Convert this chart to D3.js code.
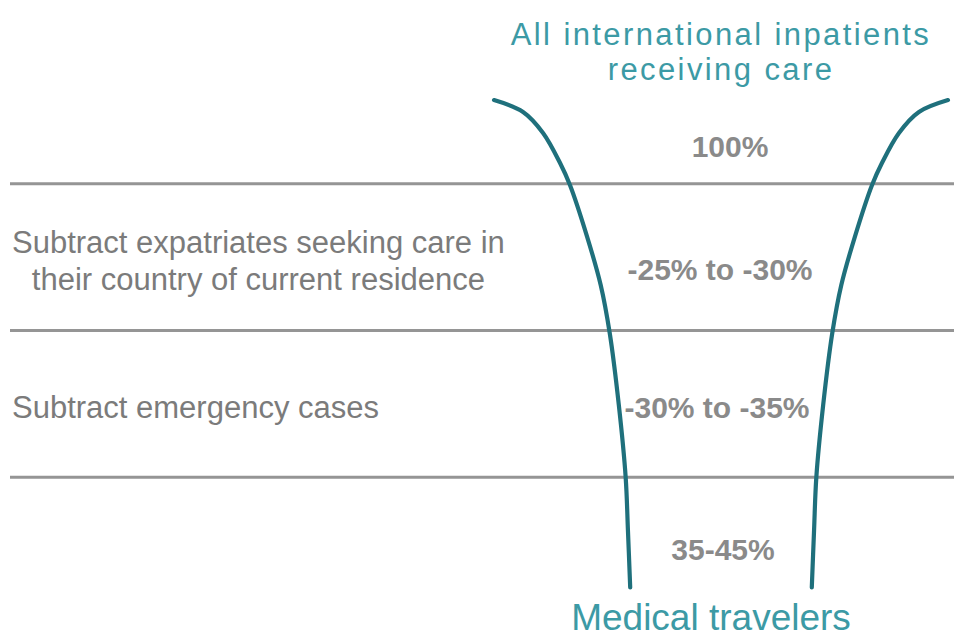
<!DOCTYPE html>
<html>
<head>
<meta charset="utf-8">
<script src="https://cdn.jsdelivr.net/npm/d3@7"></script>
<style>
  body { margin: 0; background: #fff; }
  text { font-family: "Liberation Sans", Arial, sans-serif; }
</style>
</head>
<body>
<script>
// rows of the funnel, top to bottom
var stageLabels = [
  [],
  ["Subtract expatriates seeking care in", "their country of current residence"],
  ["Subtract emergency cases"],
  []
];
var shareLabels = ["100%", "-25% to -30%", "-30% to -35%", "35-45%"];
var topTitle = ["All international inpatients", "receiving care"];
var bottomTitle = "Medical travelers";

// funnel profile: depth (in rows) and width (% of the opening)
var funnelDepth = [0.43, 0.511, 0.654, 0.859, 1.01, 1.36, 1.69, 2.02, 2.51, 3.00, 3.36, 3.75];
var funnelWidth = [100, 87.2, 78.4, 70.9, 66.5, 59, 53, 49, 45, 42, 41, 40];

var width = 954, height = 637;

var svg = d3.select("body")
  .append("svg")
  .attr("width", width)
  .attr("height", height);

// rows
var y = d3.scaleLinear()
  .domain([0, stageLabels.length])
  .range([37, 624]);

// funnel, centred on 0
var x = d3.scaleLinear()
  .domain([-100, 100])
  .range([494, 948]);

var teal = "#1f707c";
var titleTeal = "#3c9aa5";

// row dividers
svg.selectAll("line.divider")
  .data(d3.range(1, stageLabels.length))
  .enter().append("line")
  .attr("class", "divider")
  .attr("x1", 10)
  .attr("x2", width)
  .attr("y1", function(d) { return y(d); })
  .attr("y2", function(d) { return y(d); })
  .attr("stroke", "#959595")
  .attr("stroke-width", 3);

// funnel sides
var pts = funnelDepth.map(function(d, i) { return [funnelWidth[i], d]; });

var side = function(sign) {
  return d3.line()
    .x(function(d) { return x(sign * d[0]); })
    .y(function(d) { return y(d[1]); })
    .curve(d3.curveCatmullRom.alpha(0.5));
};

[-1, 1].forEach(function(s) {
  svg.append("path")
    .attr("d", side(s)(pts))
    .attr("fill", "none")
    .attr("stroke", teal)
    .attr("stroke-width", 4.2)
    .attr("stroke-linecap", "round");
});

// stage descriptions on the left: first line starts at the margin,
// following lines are centred under it
stageLabels.forEach(function(lines, i) {
  if (!lines.length) return;
  var mid = (y(i) + y(i + 1)) / 2;
  var t = svg.append("text")
    .attr("x", 12)
    .attr("y", mid - (lines.length - 1) * 18.5 + 14)
    .attr("fill", "#7b7b7b")
    .style("font-size", "31px");
  var first = t.append("tspan").attr("x", 12).text(lines[0]);
  var w0 = first.node().getComputedTextLength();
  lines.slice(1).forEach(function(l) {
    t.append("tspan")
      .attr("x", 12 + w0 / 2)
      .attr("dy", 37)
      .attr("text-anchor", "middle")
      .text(l);
  });
});

// share in each row
var shareDy = [0.743, 0.581, 0.521, 0.489];
var shareDx = [9, -1, -4, 2];
svg.selectAll("text.share")
  .data(shareLabels)
  .enter().append("text")
  .attr("class", "share")
  .attr("text-anchor", "middle")
  .attr("x", function(d, i) { return x(0) + shareDx[i]; })
  .attr("y", function(d, i) { return y(i) + (y(i + 1) - y(i)) * shareDy[i] + 11; })
  .attr("fill", "#8a8a8a")
  .style("font-size", "30px")
  .style("font-weight", "bold")
  .text(function(d) { return d; });

// top and bottom titles
svg.selectAll("text.title")
  .data(topTitle)
  .enter().append("text")
  .attr("class", "title")
  .attr("text-anchor", "middle")
  .attr("x", x(0))
  .attr("y", function(d, i) { return 45 + i * 35; })
  .attr("fill", titleTeal)
  .style("font-size", "31px")
  .style("letter-spacing", "2.4px")
  .text(function(d) { return d; });

svg.append("text")
  .attr("text-anchor", "middle")
  .attr("x", x(0) - 10)
  .attr("y", 630)
  .attr("fill", titleTeal)
  .style("font-size", "37px")
  .text(bottomTitle);
</script>
</body>
</html>
